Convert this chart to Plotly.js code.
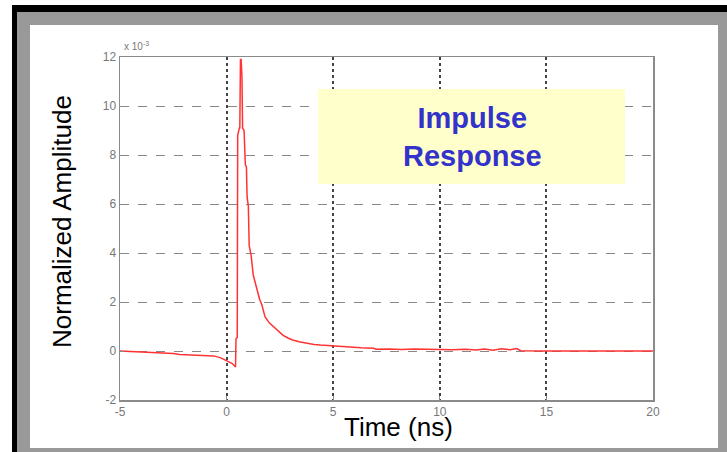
<!DOCTYPE html>
<html>
<head>
<meta charset="utf-8">
<script src="https://cdn.plot.ly/plotly-3.0.1.min.js"></script>
<style>html,body{margin:0;padding:0;background:#fff;}#chart{width:727px;height:452px;}</style>
</head>
<body>
<div id="chart"></div>
<script>
// Time axis (ns)
var timeNs = [-5, -4, -3, -2.5, -2.2, -1.5, -1, -0.6, -0.3, 0, 0.25, 0.42, 0.44, 0.5, 0.52, 0.6, 0.62, 0.65, 0.68, 0.72, 0.75, 0.82, 0.88, 0.93, 0.96, 1.02, 1.06, 1.15, 1.25, 1.4, 1.55, 1.65, 1.8, 2.0, 2.2, 2.45, 2.65, 2.9, 3.1, 3.4, 3.75, 4.1, 4.4, 4.9, 5.3, 5.8, 6.3, 6.9, 7.0, 7.6, 8.2, 8.8, 9.4, 10.0, 10.6, 11.2, 11.7, 12.1, 12.5, 12.9, 13.3, 13.6, 13.8, 15, 17, 20];
// Normalized amplitude (x 10^-3)
var amplitude = [0.0, -0.03, -0.06, -0.1, -0.14, -0.16, -0.18, -0.2, -0.27, -0.38, -0.5, -0.65, 0.5, 0.55, 8.8, 9.1, 9.1, 11.9, 11.9, 11.2, 9.1, 9.0, 7.6, 7.5, 6.3, 5.9, 4.3, 3.9, 3.1, 2.6, 2.1, 1.9, 1.4, 1.15, 0.98, 0.78, 0.64, 0.52, 0.45, 0.38, 0.32, 0.27, 0.24, 0.21, 0.17, 0.15, 0.13, 0.11, 0.07, 0.08, 0.06, 0.08, 0.06, 0.07, 0.05, 0.07, 0.04, 0.08, 0.03, 0.09, 0.05, 0.1, 0.01, 0.0, 0.0, 0.0];
var xTicks = [-5, 0, 5, 10, 15, 20];
var yTicks = [-2, 0, 2, 4, 6, 8, 10, 12];
var titleText = "Impulse<br>Response";
var xTitle = "Time (ns)";
var yTitle = "Normalized Amplitude";
var scaleText = "x 10<sup>-3</sup>";

var W = 727, H = 452, ML = 120, MR = 74, MT = 57, MB = 52;
var PW = W - ML - MR, PH = H - MT - MB;
function px(x) { return (x - ML) / PW; }
function py(y) { return 1 - (y - MT) / PH; }

var trace = {
  x: timeNs, y: amplitude, type: 'scatter', mode: 'lines',
  line: {color: '#ff3333', width: 1.5}, hoverinfo: 'skip'
};

var layout = {
  width: W, height: H,
  margin: {l: ML, r: MR, t: MT, b: MB, pad: 0},
  paper_bgcolor: '#ffffff', plot_bgcolor: '#ffffff',
  showlegend: false,
  font: {family: 'Liberation Sans, Arial, sans-serif'},
  xaxis: {
    range: [-5, 20], tickvals: xTicks, ticktext: xTicks.map(String),
    showgrid: true, gridcolor: '#444444', griddash: 'dot', gridwidth: 2,
    zeroline: false, showline: true, mirror: true, linecolor: '#8a8a8a', linewidth: 1.5,
    ticks: 'inside', ticklen: 4, tickcolor: '#8a8a8a',
    tickfont: {size: 12, color: '#777777'}, automargin: false, fixedrange: true
  },
  yaxis: {
    range: [-2, 12], tickvals: yTicks, ticktext: yTicks.map(String),
    showgrid: true, gridcolor: '#888888', griddash: 'dash', gridwidth: 1,
    zeroline: false, showline: true, mirror: true, linecolor: '#8a8a8a', linewidth: 1.5,
    ticks: 'inside', ticklen: 4, tickcolor: '#8a8a8a',
    tickfont: {size: 12, color: '#777777'}, automargin: false, fixedrange: true
  },
  shapes: [
    {type: 'rect', xref: 'paper', yref: 'paper', layer: 'below', x0: px(12), x1: px(740), y0: py(460), y1: py(5), fillcolor: '#000000', line: {width: 0}},
    {type: 'rect', xref: 'paper', yref: 'paper', layer: 'below', x0: px(17), x1: px(740), y0: py(460), y1: py(12), fillcolor: '#999999', line: {width: 0}},
    {type: 'rect', xref: 'paper', yref: 'paper', layer: 'below', x0: px(30), x1: px(718), y0: py(448), y1: py(25), fillcolor: '#ffffff', line: {width: 0}},
    {type: 'rect', xref: 'paper', yref: 'paper', layer: 'above', x0: px(318), x1: px(625), y0: py(184), y1: py(89), fillcolor: '#ffffcc', line: {width: 0}}
  ],
  annotations: [
    {text: '<b>' + titleText + '</b>', xref: 'paper', yref: 'paper', x: px(472), y: py(137), xanchor: 'center', yanchor: 'middle', showarrow: false, font: {size: 29, color: '#3333cc', family: 'Liberation Sans, Arial, sans-serif'}},
    {text: yTitle, xref: 'paper', yref: 'paper', x: px(62), y: py(222), xanchor: 'center', yanchor: 'middle', textangle: -90, showarrow: false, font: {size: 26, color: '#000000'}},
    {text: xTitle, xref: 'paper', yref: 'paper', x: px(398), y: py(427), xanchor: 'center', yanchor: 'middle', showarrow: false, font: {size: 26, color: '#000000'}},
    {text: scaleText, xref: 'paper', yref: 'paper', x: px(122), y: py(46), xanchor: 'left', yanchor: 'middle', showarrow: false, font: {size: 10, color: '#777777'}}
  ]
};

Plotly.newPlot('chart', [trace], layout, {displayModeBar: false, staticPlot: true});
</script>
</body>
</html>
